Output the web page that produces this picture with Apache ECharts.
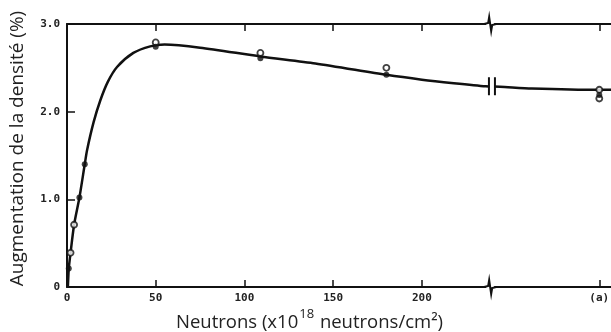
<!DOCTYPE html>
<html><head><meta charset="utf-8">
<script src="https://cdn.jsdelivr.net/npm/echarts@6/dist/echarts.min.js"></script>
<style>html,body{margin:0;padding:0;background:#fff}#c{width:611px;height:332px}</style>
</head><body><div id="c"></div>
<script>
// fitted curve
const curveX = [0.5, 1, 2, 4, 7, 10, 11.3, 15, 18.8, 23, 28.2, 37.4, 46.9, 55, 75, 109, 140, 180, 200, 218, 236, 244, 262, 300, 306.6];
const curveY = [0, 0.21, 0.39, 0.71, 1.02, 1.40, 1.56, 1.88, 2.13, 2.34, 2.51, 2.67, 2.745, 2.765, 2.73, 2.63, 2.55, 2.42, 2.365, 2.325, 2.29, 2.285, 2.265, 2.25, 2.25];
// measured points: filled (solid) and open circles
const filledX = [1, 7, 10, 50, 109, 180, 300];
const filledY = [0.21, 1.02, 1.40, 2.74, 2.61, 2.42, 2.19];
const openX = [2, 4, 50, 109, 180, 300, 300];
const openY = [0.39, 0.71, 2.79, 2.67, 2.50, 2.25, 2.15];
// axes
const xLabelValues = [0, 50, 100, 150, 200, 300];
const xLabelTexts = ['0', '50', '100', '150', '200', '(a)'];
const xTickValues = [50, 100, 150, 200, 300];
const xMax = 306.6;
// scale break
const breakX = 238.5;
const curveBreakY = 2.29;

const zip = (a, b) => a.map((v, i) => [v, b[i]]);
const chart = echarts.init(document.getElementById('c'));
const labelFont = { fontFamily: 'DejaVu Sans Mono', fontWeight: 'bold', fontSize: 11, color: '#222' };

chart.setOption({
  animation: false,
  backgroundColor: '#fff',
  title: {
    left: 176, top: 308, padding: 0,
    text: '{a|Neutrons (x10}{s|18}{a| neutrons/cm²)}',
    textStyle: {
      fontWeight: 'normal',
      rich: {
        a: { fontFamily: 'Open Sans', fontWeight: 'normal', fontSize: 18.5, color: '#222', verticalAlign: 'bottom', lineHeight: 24 },
        s: { fontFamily: 'Open Sans', fontWeight: 'normal', fontSize: 13, color: '#222', verticalAlign: 'top', lineHeight: 14, padding: [0, 1, 0, 1] }
      }
    }
  },
  grid: { left: 67, right: 0, top: 24, bottom: 45, outerBoundsMode: 'none', containLabel: false },
  xAxis: [{
    type: 'value', min: 0, max: xMax, position: 'bottom',
    axisLine: { lineStyle: { color: '#111', width: 2 } },
    axisTick: { inside: true, length: 7, customValues: xTickValues, lineStyle: { color: '#111', width: 1.5 } },
    axisLabel: Object.assign({ margin: 6, customValues: xLabelValues,
      formatter: v => { const i = xLabelValues.indexOf(v); return i >= 0 ? xLabelTexts[i] : ''; } }, labelFont),
    splitLine: { show: false }
  }, {
    type: 'value', min: 0, max: xMax, position: 'top',
    axisLine: { lineStyle: { color: '#111', width: 2 } },
    axisTick: { inside: true, length: 7, customValues: xTickValues, lineStyle: { color: '#111', width: 1.5 } },
    axisLabel: { show: false },
    splitLine: { show: false }
  }],
  yAxis: {
    type: 'value', min: 0, max: 3, interval: 1,
    name: 'Augmentation de la densité (%)', nameLocation: 'middle', nameGap: 40,
    nameTextStyle: { fontFamily: 'Open Sans', fontWeight: 'normal', fontSize: 19, color: '#222', padding: [0, 0, 0, 14] },
    axisLine: { show: true, lineStyle: { color: '#111', width: 2 } },
    axisTick: { show: true, inside: true, length: 8, lineStyle: { color: '#111', width: 1.5 } },
    axisLabel: Object.assign({ margin: 7, formatter: v => v === 0 ? '0' : v.toFixed(1) }, labelFont),
    splitLine: { show: false }
  },
  series: [{
    type: 'line', data: zip(curveX, curveY), smooth: 0.25,
    showSymbol: false, lineStyle: { color: '#111', width: 2.5 }, z: 2
  }, {
    type: 'scatter', data: zip(openX, openY), symbol: 'circle', symbolSize: 6,
    itemStyle: { color: '#fff', borderColor: '#111', borderWidth: 1.8 }, z: 3
  }, {
    type: 'scatter', data: zip(filledX, filledY), symbol: 'circle', symbolSize: 6,
    itemStyle: { color: '#111' }, z: 4
  }, {
    type: 'custom', z: 5, silent: true,
    data: [[breakX, 0, 0], [breakX, 3, 0], [breakX + 1, curveBreakY, 1]],
    renderItem: (params, api) => {
      const p = api.coord([api.value(0), api.value(1)]);
      const x = p[0], y = p[1];
      if (api.value(2) === 0) {
        return { type: 'group', children: [
          { type: 'rect', shape: { x: x - 4, y: y - 3, width: 8, height: 6 }, style: { fill: '#fff' } },
          { type: 'polyline', shape: { points: [[x - 6, y], [x - 2, y - 1], [x - 1, y - 7], [x + 1, y + 7], [x + 2, y + 1], [x + 6, y]] },
            style: { stroke: '#111', lineWidth: 2, fill: null } }
        ] };
      }
      return { type: 'group', children: [
        { type: 'rect', shape: { x: x - 2.5, y: y - 4, width: 5, height: 8 }, style: { fill: '#fff' } },
        { type: 'line', shape: { x1: x - 3, y1: y - 9, x2: x - 3, y2: y + 9 }, style: { stroke: '#111', lineWidth: 2 } },
        { type: 'line', shape: { x1: x + 3, y1: y - 9, x2: x + 3, y2: y + 9 }, style: { stroke: '#111', lineWidth: 2 } }
      ] };
    }
  }]
});
</script></body></html>
